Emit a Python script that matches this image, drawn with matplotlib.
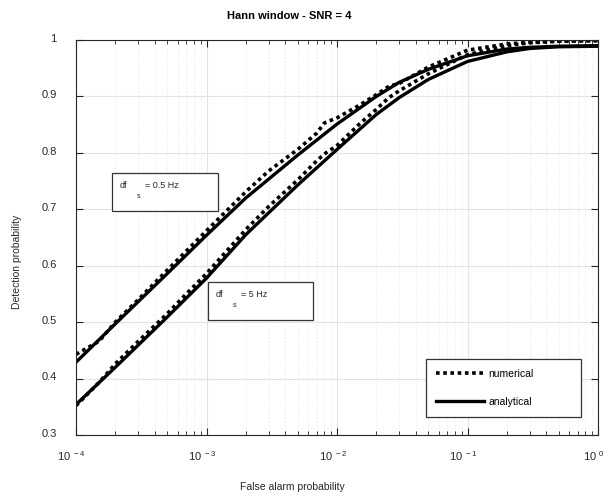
import numpy as np
import matplotlib
matplotlib.use("Agg")
import matplotlib.pyplot as plt
from matplotlib.ticker import FixedLocator, FixedFormatter, LogLocator, NullFormatter
from matplotlib.patches import Rectangle
from matplotlib.transforms import ScaledTranslation

plt.rcParams["font.family"] = ["Liberation Sans", "DejaVu Sans"]
plt.rcParams["mathtext.fontset"] = "custom"
plt.rcParams["mathtext.rm"] = "Liberation Sans"
plt.rcParams["mathtext.default"] = "regular"

# False alarm probability grid and detection probabilities (analytical model)
pfa_analytic = [1e-4, 2e-4, 5e-4, 1e-3, 2e-3, 5e-3, 1e-2, 2e-2, 3e-2, 5e-2,
                1e-1, 2e-1, 3e-1, 5e-1, 1.0]
pd_analytic_05hz = [0.429, 0.497, 0.586, 0.654, 0.720, 0.796, 0.851, 0.900, 0.925,
                    0.948, 0.972, 0.984, 0.987, 0.989, 0.990]
pd_analytic_5hz = [0.354, 0.420, 0.509, 0.578, 0.655, 0.743, 0.806, 0.868, 0.898,
                   0.930, 0.962, 0.979, 0.985, 0.988, 0.989]

# Simulated (numerical) detection probabilities
pfa_numeric = [1e-4, 1.5e-4, 2e-4, 3e-4, 5e-4, 7e-4, 1e-3, 2e-3, 3e-3, 5e-3,
               7e-3, 8e-3, 1e-2, 1.5e-2, 2e-2, 2.5e-2, 3e-2, 5e-2, 1e-1, 2e-1,
               3e-1, 5e-1, 1.0]
pd_numeric_05hz = [0.443, 0.466, 0.500, 0.540, 0.592, 0.626, 0.662, 0.731, 0.768,
                   0.806, 0.835, 0.853, 0.862, 0.885, 0.903, 0.918, 0.923, 0.952,
                   0.982, 0.993, 0.996, 0.998, 0.999]
pd_numeric_5hz = [0.352, 0.393, 0.426, 0.466, 0.515, 0.550, 0.586, 0.664, 0.705,
                  0.752, 0.786, 0.798, 0.813, 0.852, 0.877, 0.898, 0.910, 0.940,
                  0.974, 0.990, 0.995, 0.998, 0.999]

y_ticks = [0.3, 0.4, 0.5, 0.6, 0.7, 0.8, 0.9, 1.0]
y_tick_labels = ["0.3", "0.4", "0.5", "0.6", "0.7", "0.8", "0.9", "1"]
x_ticks = [1e-4, 1e-3, 1e-2, 1e-1, 1.0]
x_tick_labels = [r"$10^{\ -4}$", r"$10^{\ -3}$", r"$10^{\ -2}$", r"$10^{\ -1}$", r"$10^{\ 0}$"]

axis_color = "#262626"

fig = plt.figure(figsize=(6.10, 4.98), dpi=100)
ax = fig.add_axes([76 / 610, 63 / 498, 522 / 610, 395 / 498])

dot_style = (0, (1, 1))
ax.plot(pfa_numeric, pd_numeric_05hz, color="black", lw=2.6, linestyle=dot_style,
        label="numerical")
ax.plot(pfa_analytic, pd_analytic_05hz, color="black", lw=2.4, label="analytical")
ax.plot(pfa_numeric, pd_numeric_5hz, color="black", lw=2.6, linestyle=dot_style)
ax.plot(pfa_analytic, pd_analytic_5hz, color="black", lw=2.4)

ax.set_xscale("log")
ax.set_xlim(1e-4, 1.0)
ax.set_ylim(0.3, 1.0)

ax.xaxis.set_major_locator(FixedLocator(x_ticks))
ax.xaxis.set_major_formatter(FixedFormatter(x_tick_labels))
ax.xaxis.set_minor_locator(LogLocator(base=10, subs=np.arange(2, 10)))
ax.xaxis.set_minor_formatter(NullFormatter())
ax.yaxis.set_major_locator(FixedLocator(y_ticks))
ax.yaxis.set_major_formatter(FixedFormatter(y_tick_labels))

ax.grid(True, which="major", color="#e3e3e3", lw=0.8, linestyle="-")
ax.grid(True, which="minor", axis="x", color="#dcdcdc", lw=0.6, linestyle=(0, (1, 3)))
ax.set_axisbelow(True)

for s in ax.spines.values():
    s.set_color(axis_color)
    s.set_linewidth(0.8)

ax.tick_params(which="both", direction="in", top=True, right=True, colors=axis_color,
               labelsize=8)
ax.tick_params(which="major", length=5, width=0.8)
ax.tick_params(which="minor", length=3, width=0.6)
ax.tick_params(axis="y", pad=14)
ax.tick_params(axis="x", pad=10)

for lab in ax.get_yticklabels():
    lab.set_transform(lab.get_transform() + ScaledTranslation(0, 1.5 / 72, fig.dpi_scale_trans))
for lab in ax.get_xticklabels():
    lab.set_transform(lab.get_transform() + ScaledTranslation(-3 / 72, 0, fig.dpi_scale_trans))

ax.set_xlabel("False alarm probability", fontsize=7.5, color=axis_color)
ax.xaxis.set_label_coords(0.414, -0.118)
ax.set_ylabel("Detection probability", fontsize=7.5, color=axis_color)
ax.yaxis.set_label_coords(-0.104, 0.438)

fig.text(289 / 610, 1 - 16 / 498, "Hann window - SNR = 4", ha="center", va="center",
         fontsize=8, fontweight="bold", color="black")

# Annotation boxes for the two sampling resolutions
for (x0, y0, w, h), main_txt in [((0.069, 0.567, 0.203, 0.096), "= 0.5 Hz"),
                                 ((0.253, 0.291, 0.201, 0.096), "= 5 Hz")]:
    ax.add_patch(Rectangle((x0, y0), w, h, transform=ax.transAxes, fill=True,
                           facecolor="white", edgecolor="#333333", lw=0.9, zorder=5))
    ax.text(x0 + 0.015, y0 + h - 0.031, "df", transform=ax.transAxes, fontsize=6.5,
            va="center", ha="left", zorder=6, color=axis_color)
    ax.text(x0 + 0.047, y0 + h - 0.059, "s", transform=ax.transAxes, fontsize=5,
            va="center", ha="left", zorder=6, color=axis_color)
    ax.text(x0 + 0.063, y0 + h - 0.031, main_txt, transform=ax.transAxes, fontsize=6.5,
            va="center", ha="left", zorder=6, color=axis_color)

leg = ax.legend(loc="upper left", bbox_to_anchor=(0.670, 0.045, 0.2975, 0.1474),
                mode="expand", borderaxespad=0, fontsize=7.5, handlelength=4.6,
                handletextpad=0.5, labelspacing=1.7, borderpad=0.95, fancybox=False,
                framealpha=1, edgecolor="#333333")
leg.get_frame().set_linewidth(0.9)

fig.savefig("out.png", dpi=100)
